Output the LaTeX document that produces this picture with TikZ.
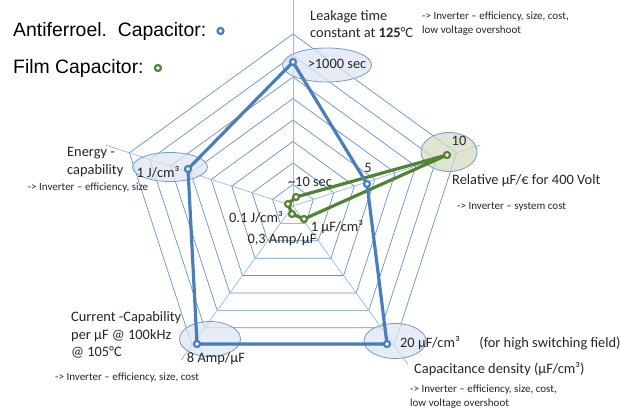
\documentclass[tikz,border=0pt]{standalone}
\usepackage{fontspec}
\setmainfont{Carlito}
\newfontfamily\legendfont{Liberation Sans}
\usepackage{xcolor}
\usetikzlibrary{shapes,backgrounds,positioning,calc}
\definecolor{webblue}{RGB}{98,146,204}
\definecolor{axisblue}{RGB}{145,188,232}
\definecolor{afblue}{RGB}{74,126,187}
\definecolor{filmgreen}{RGB}{84,130,53}
\definecolor{ellfill}{RGB}{222,229,243}
\definecolor{ellline}{RGB}{120,152,200}
\definecolor{greenfill}{RGB}{212,220,194}
\definecolor{textgray}{RGB}{38,38,38}
\tikzset{%
  web ring/.style={
    draw=webblue,
    line width=0.7pt
  },
  web axis/.style={
    draw=axisblue,
    line width=0.7pt
  },
  value ellipse/.style={
    ellipse,
    draw=ellline,
    fill=ellfill,
    fill opacity=0.75,
    line width=0.8pt,
    inner sep=0pt
  },
  af line/.style={
    draw=afblue,
    line width=3.2pt,
    line join=round
  },
  film line/.style={
    draw=filmgreen,
    line width=3.2pt,
    line join=round
  },
  af point/.style={
    circle,
    draw=afblue,
    fill=white,
    line width=2.2pt,
    inner sep=0pt,
    minimum size=6pt
  },
  film point/.style={
    af point,
    draw=filmgreen
  },
  axis label/.style={
    text=textgray,
    inner sep=1pt,
    font=\fontsize{14.4}{17.5}\selectfont
  },
  note label/.style={
    text=textgray,
    inner sep=1pt,
    font=\fontsize{11}{14}\selectfont
  },
  legend label/.style={
    text=black,
    inner sep=1pt,
    font=\legendfont\fontsize{19.4}{22}\selectfont
  },
}
\begin{document}
\begin{tikzpicture}[x=1pt, y=1pt]
\useasboundingbox (0,0) rectangle (621,417);
\coordinate (C) at (293,211);

% spider web
\foreach \r in {1,...,8}
  \draw [web ring] ($(C)+(90:\r*21.5)$) -- ($(C)+(162:\r*21.5)$) -- ($(C)+(234:\r*21.5)$)
    -- ($(C)+(306:\r*21.5)$) -- ($(C)+(18:\r*21.5)$) -- cycle;

\foreach \a/\len [count=\i] in {90/215, 162/197, 234/190, 306/196, 18/197} {
  \coordinate (axis-end-\i) at ($(C)+(\a:\len)$);
  \draw [web axis] (C) -- (axis-end-\i);
}

% value ellipses
\node [value ellipse, minimum width=89, minimum height=34] (leak-ell) at (327,352) {};
\node [value ellipse, minimum width=75, minimum height=29] (energy-ell) at (170,250) {};
\node [value ellipse, minimum width=61, minimum height=35] (current-ell) at (210,78) {};
\node [value ellipse, minimum width=62, minimum height=35] (density-ell) at (395,76) {};
\node [value ellipse, fill=greenfill, minimum width=56, minimum height=39] (cost-ell) at (449,265) {};

% data points
\foreach \n/\px/\py in {1/293/355, 2/188/248, 3/197/73, 4/387/73, 5/367/233}
  \coordinate (af-\n) at (\px,\py);
\foreach \n/\px/\py in {1/296/220, 2/288/213, 3/292/203, 4/304/198, 5/447/262}
  \coordinate (film-\n) at (\px,\py);

\draw [film line] (film-1) -- (film-2) -- (film-3) -- (film-4) -- (film-5) -- cycle;
\draw [af line] (af-1) -- (af-2) -- (af-3) -- (af-4) -- (af-5) -- cycle;

\foreach \n in {1,...,5} {
  \node [film point] (film-mark-\n) at (film-\n) {};
  \node [af point] (af-mark-\n) at (af-\n) {};
}

% legend
\node [legend label, anchor=west] (legend-af) at (12,386) {Antiferroel.\ \ Capacitor:};
\node [af point, right=9pt of legend-af] (legend-af-mark) {};
\node [legend label, anchor=west] (legend-film) at (12,349) {Film Capacitor:};
\node [film point, right=9pt of legend-film] (legend-film-mark) {};

% leakage axis
\node [axis label, anchor=west, align=left] (leak-label) at (309,393) {Leakage time\\constant at \textbf{125}°C};
\node [note label, anchor=west, align=left] (leak-note) at (421,393) {-> Inverter – efficiency, size, cost,\\low voltage overshoot};
\node [axis label] (leak-value) at (337,353) {>1000 sec};
\node [axis label] (film-leak-value) at (310,235) {\textasciitilde10 sec};

% energy axis
\node [axis label, anchor=west, align=left] (energy-label) at (66,255) {Energy -\\capability};
\node [note label] (energy-note) at (88,229) {-> Inverter – efficiency, size};
\node [axis label] (energy-value) at (158,245) {1 J/cm³};
\node [axis label] (film-energy-value) at (256,200) {0.1 J/cm³};

% cost axis
\node [axis label] (af-cost-value) at (368,249) {5};
\node [axis label] (film-cost-value) at (459,276) {10};
\node [axis label, anchor=west] (cost-label) at (451,236) {Relative µF/€ for 400 Volt};
\node [note label, anchor=west] (cost-note) at (456,210) {-> Inverter – system cost};

% current axis
\node [axis label, anchor=west, align=left] (current-label) at (70,82) {Current -Capability\\per µF @ 100kHz\\@ 105°C};
\node [note label, anchor=west] (current-note) at (54,39) {-> Inverter – efficiency, size, cost};
\node [axis label] (current-value) at (216,58) {8 Amp/µF};
\node [axis label] (film-current-value) at (282,177) {0,3 Amp/µF};

% density axis
\node [axis label] (density-value) at (430,74) {20 µF/cm³};
\node [axis label] (density-remark) at (550,74) {(for high switching field)};
\node [axis label] (film-density-value) at (337,190) {1 µF/cm³};
\node [axis label, anchor=west] (density-label) at (413,48) {Capacitance density (µF/cm³)};
\node [note label, anchor=west, align=left] (density-note) at (409,20) {-> Inverter – efficiency, size, cost,\\low voltage overshoot};

\end{tikzpicture}
\end{document}
